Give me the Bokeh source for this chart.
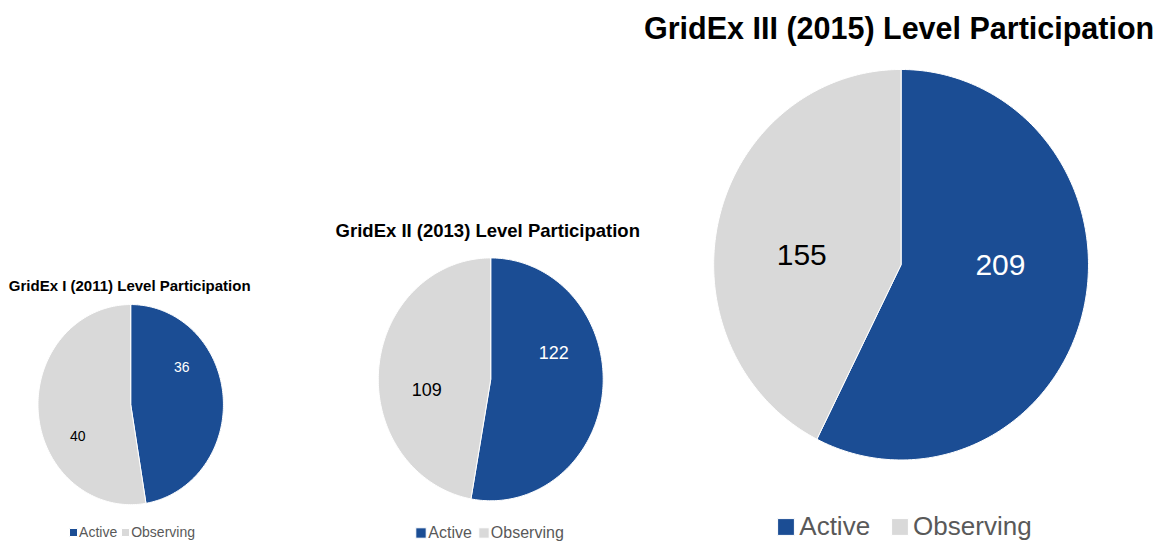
import numpy as np
from bokeh.plotting import figure
from bokeh.models import Range1d, Legend, LegendItem, ColumnDataSource
from bokeh.core.properties import value
from bokeh.embed import file_html
from bokeh.resources import INLINE

# ---------------- data ----------------
titles = ["GridEx I (2011) Level Participation",
          "GridEx II (2013) Level Participation",
          "GridEx III (2015) Level Participation"]
categories = ["Active", "Observing"]
active = [36, 122, 209]
observing = [40, 109, 155]

# ---------------- style / layout ----------------
FONT = "Liberation Sans"
slice_colors = ["#1b4d94", "#d9d9d9"]
label_colors = ["white", "black"]

# layout in reference-image pixel coordinates (1176 x 560 design space)
REF_W, REF_H = 1176, 560
layouts = [
    dict(cx=132, cy=416, rx=94, ry=103, title_x=131, title_y=293, title_size="15px",
         label_size="14px", label_pos=[(0.55, -0.38), (-0.57, 0.31)],
         leg_x=69, leg_y=547, leg_h=17, leg_font="14px", leg_glyph=10,
         leg_standoff=1, leg_spacing=3),
    dict(cx=497, cy=390, rx=114, ry=125, title_x=494, title_y=237, title_size="18.5px",
         label_size="18px", label_pos=[(0.56, -0.22), (-0.57, 0.08)],
         leg_x=420, leg_y=548, leg_h=19, leg_font="16px", leg_glyph=13,
         leg_standoff=1, leg_spacing=5),
    dict(cx=913, cy=272, rx=190, ry=201, title_x=911, title_y=28, title_size="30.5px",
         label_size="30px", label_pos=[(0.53, 0.0), (-0.53, -0.05)],
         leg_x=786, leg_y=542, leg_h=31, leg_font="26px", leg_glyph=21,
         leg_standoff=3, leg_spacing=19),
]

W, H = 1160, 544
SX, SY = W / REF_W, H / REF_H
p = figure(width=W, height=H, output_backend="svg", toolbar_location=None,
           x_range=Range1d(0, REF_W), y_range=Range1d(REF_H, 0), min_border=0)
p.axis.visible = False
p.grid.visible = False
p.outline_line_color = None
p.background_fill_color = "white"


def slice_xy(cx, cy, rx, ry, a0, a1, n=160):
    th = np.linspace(a0, a1, n)
    xs = np.concatenate([[cx], cx + rx * np.sin(th), [cx]])
    ys = np.concatenate([[cy], cy - ry * np.cos(th), [cy]])
    return list(xs), list(ys)


for i, lay in enumerate(layouts):
    vals = [active[i], observing[i]]
    total = float(sum(vals))
    bounds = np.concatenate([[0.0], np.cumsum(vals) / total]) * 2 * np.pi
    xs, ys = [], []
    for k in range(len(vals)):
        x_, y_ = slice_xy(lay["cx"], lay["cy"], lay["rx"], lay["ry"], bounds[k], bounds[k + 1])
        xs.append(x_)
        ys.append(y_)
    src = ColumnDataSource(dict(xs=xs, ys=ys, color=slice_colors, cat=categories))
    r = p.patches("xs", "ys", source=src, fill_color="color", line_color="white",
                  line_width=1)

    # value labels
    lx = [lay["cx"] + fx * lay["rx"] for fx, fy in lay["label_pos"]]
    ly = [lay["cy"] + fy * lay["ry"] for fx, fy in lay["label_pos"]]
    p.text(x=lx, y=ly, text=[str(v) for v in vals], text_color=label_colors,
           text_align="center", text_baseline="middle",
           text_font=value(FONT), text_font_size=lay["label_size"])

    # title
    p.text(x=[lay["title_x"]], y=[lay["title_y"]], text=[titles[i]],
           text_align="center", text_baseline="middle", text_color="black",
           text_font=value(FONT), text_font_style="bold",
           text_font_size=lay["title_size"])

    # legend (location in screen px from bottom-left of the frame)
    loc_x = lay["leg_x"] * SX
    loc_y = (REF_H - lay["leg_y"]) * SY - lay["leg_h"] / 2
    leg = Legend(items=[LegendItem(label=categories[0], renderers=[r], index=0),
                        LegendItem(label=categories[1], renderers=[r], index=1)],
                 orientation="horizontal",
                 location=(loc_x, loc_y),
                 label_text_font=FONT, label_text_font_size=lay["leg_font"],
                 label_text_color="#595959", glyph_width=lay["leg_glyph"],
                 glyph_height=lay["leg_glyph"], label_standoff=lay["leg_standoff"],
                 spacing=lay["leg_spacing"], padding=0, margin=0,
                 border_line_alpha=0, background_fill_alpha=0,
                 label_height=lay["leg_glyph"], label_width=10)
    p.add_layout(leg)

open("out.html", "w").write(file_html(p, INLINE))
